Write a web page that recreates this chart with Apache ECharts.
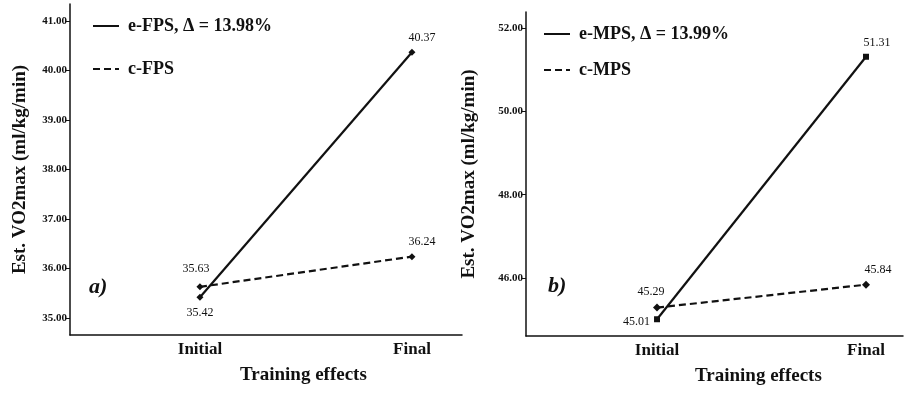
<!DOCTYPE html>
<html>
<head>
<meta charset="utf-8">
<script src="https://cdn.jsdelivr.net/npm/echarts@6/dist/echarts.min.js"></script>
<style>
  html, body { margin: 0; padding: 0; background: #fff; }
  #box { width: 917px; height: 396px; }
</style>
</head>
<body>
<div id="box"></div>
<script>
// data
var categories = ['Initial', 'Final'];
var eFPS = [35.42, 40.37];
var cFPS = [35.63, 36.24];
var eMPS = [45.01, 51.31];
var cMPS = [45.29, 45.84];
var ticksA = [35, 36, 37, 38, 39, 40, 41];
var ticksB = [46, 48, 50, 52];
var namesA = ['e-FPS, \u0394 = 13.98%', 'c-FPS'];
var namesB = ['e-MPS, \u0394 = 13.99%', 'c-MPS'];

var ink = '#111';
var serif = 'Liberation Serif';

function pts(vals, labels) {
  return vals.map(function (v, i) {
    return { value: [i, v], label: labels[i] };
  });
}

function xAx(idx, min, max) {
  return {
    type: 'value', gridIndex: idx, min: min, max: max,
    splitLine: { show: false },
    axisLine: { onZero: false, lineStyle: { color: ink, width: 1.5 } },
    axisTick: { show: false },
    axisLabel: {
      customValues: [0, 1],
      formatter: function (v) { return categories[Math.round(v)]; },
      color: ink, fontFamily: serif, fontWeight: 'bold', fontSize: 17, margin: 6
    }
  };
}

function yAx(idx, min, max, ticks, gap) {
  return {
    type: 'value', gridIndex: idx, min: min, max: max,
    name: 'Est. VO2max (ml/kg/min)', nameLocation: 'middle', nameGap: gap,
    nameTextStyle: { color: ink, fontFamily: serif, fontWeight: 'bold', fontSize: 19 },
    splitLine: { show: false },
    axisLine: { show: true, onZero: false, lineStyle: { color: ink, width: 1.5 } },
    axisTick: { show: true, customValues: ticks, length: 4, lineStyle: { color: ink, width: 1 } },
    axisLabel: {
      customValues: ticks,
      formatter: function (v) { return v.toFixed(2); },
      color: ink, fontFamily: serif, fontWeight: 'bold', fontSize: 11, margin: 3
    }
  };
}

function line(name, idx, vals, dashed, symbol, size, labels) {
  return {
    name: name, type: 'line', xAxisIndex: idx, yAxisIndex: idx,
    data: pts(vals, labels),
    symbol: symbol, symbolSize: size,
    itemStyle: { color: ink },
    lineStyle: { color: ink, width: 2.2, type: dashed ? [7, 4] : 'solid' },
    label: {
      show: true, color: ink, fontFamily: serif, fontSize: 12,
      formatter: function (p) { return p.value[1].toFixed(2); }
    },
    animation: false
  };
}

var legendText = { color: ink, fontFamily: serif, fontWeight: 'bold', fontSize: 18, padding: [0, 0, 0, 4] };

var chart = echarts.init(document.getElementById('box'));
chart.setOption({
  backgroundColor: '#fff',
  grid: [
    { left: 70, top: 4, width: 392, height: 331 },
    { left: 526, top: 12, width: 377, height: 324 }
  ],
  xAxis: [xAx(0, -0.613, 1.236), xAx(1, -0.627, 1.177)],
  yAxis: [yAx(0, 34.657, 41.343, ticksA, 40), yAx(1, 44.608, 52.384, ticksB, 47)],
  legend: [
    { data: namesA, orient: 'vertical', left: 87, top: 12, itemWidth: 26, itemHeight: 16, itemGap: 25,
      itemStyle: { opacity: 0 }, textStyle: legendText },
    { data: namesB, orient: 'vertical', left: 538, top: 20, itemWidth: 26, itemHeight: 16, itemGap: 18,
      itemStyle: { opacity: 0 }, textStyle: legendText }
  ],
  graphic: [
    { type: 'text', left: 89, top: 276, style: { text: 'a)', fill: ink, font: 'italic bold 22px "Liberation Serif"' } },
    { type: 'text', left: 548, top: 275, style: { text: 'b)', fill: ink, font: 'italic bold 22px "Liberation Serif"' } },
    { type: 'text', left: 240, top: 366, style: { text: 'Training effects', fill: ink, font: 'bold 19px "Liberation Serif"' } },
    { type: 'text', left: 695, top: 367, style: { text: 'Training effects', fill: ink, font: 'bold 19px "Liberation Serif"' } }
  ],
  series: [
    line(namesA[0], 0, eFPS, false, 'diamond', 7, [
      { position: 'bottom', distance: 6 },
      { position: 'top', offset: [10, 0] }
    ]),
    line(namesA[1], 0, cFPS, true, 'diamond', 7, [
      { position: 'top', distance: 8, offset: [-4, 0] },
      { position: 'top', offset: [10, 0] }
    ]),
    line(namesB[0], 1, eMPS, false, 'rect', 6, [
      { position: 'left', distance: 4, offset: [0, 3] },
      { position: 'top', offset: [11, 0] }
    ]),
    line(namesB[1], 1, cMPS, true, 'diamond', 8, [
      { position: 'top', distance: 6, offset: [-6, 0] },
      { position: 'top', offset: [12, 0] }
    ])
  ]
});
</script>
</body>
</html>
